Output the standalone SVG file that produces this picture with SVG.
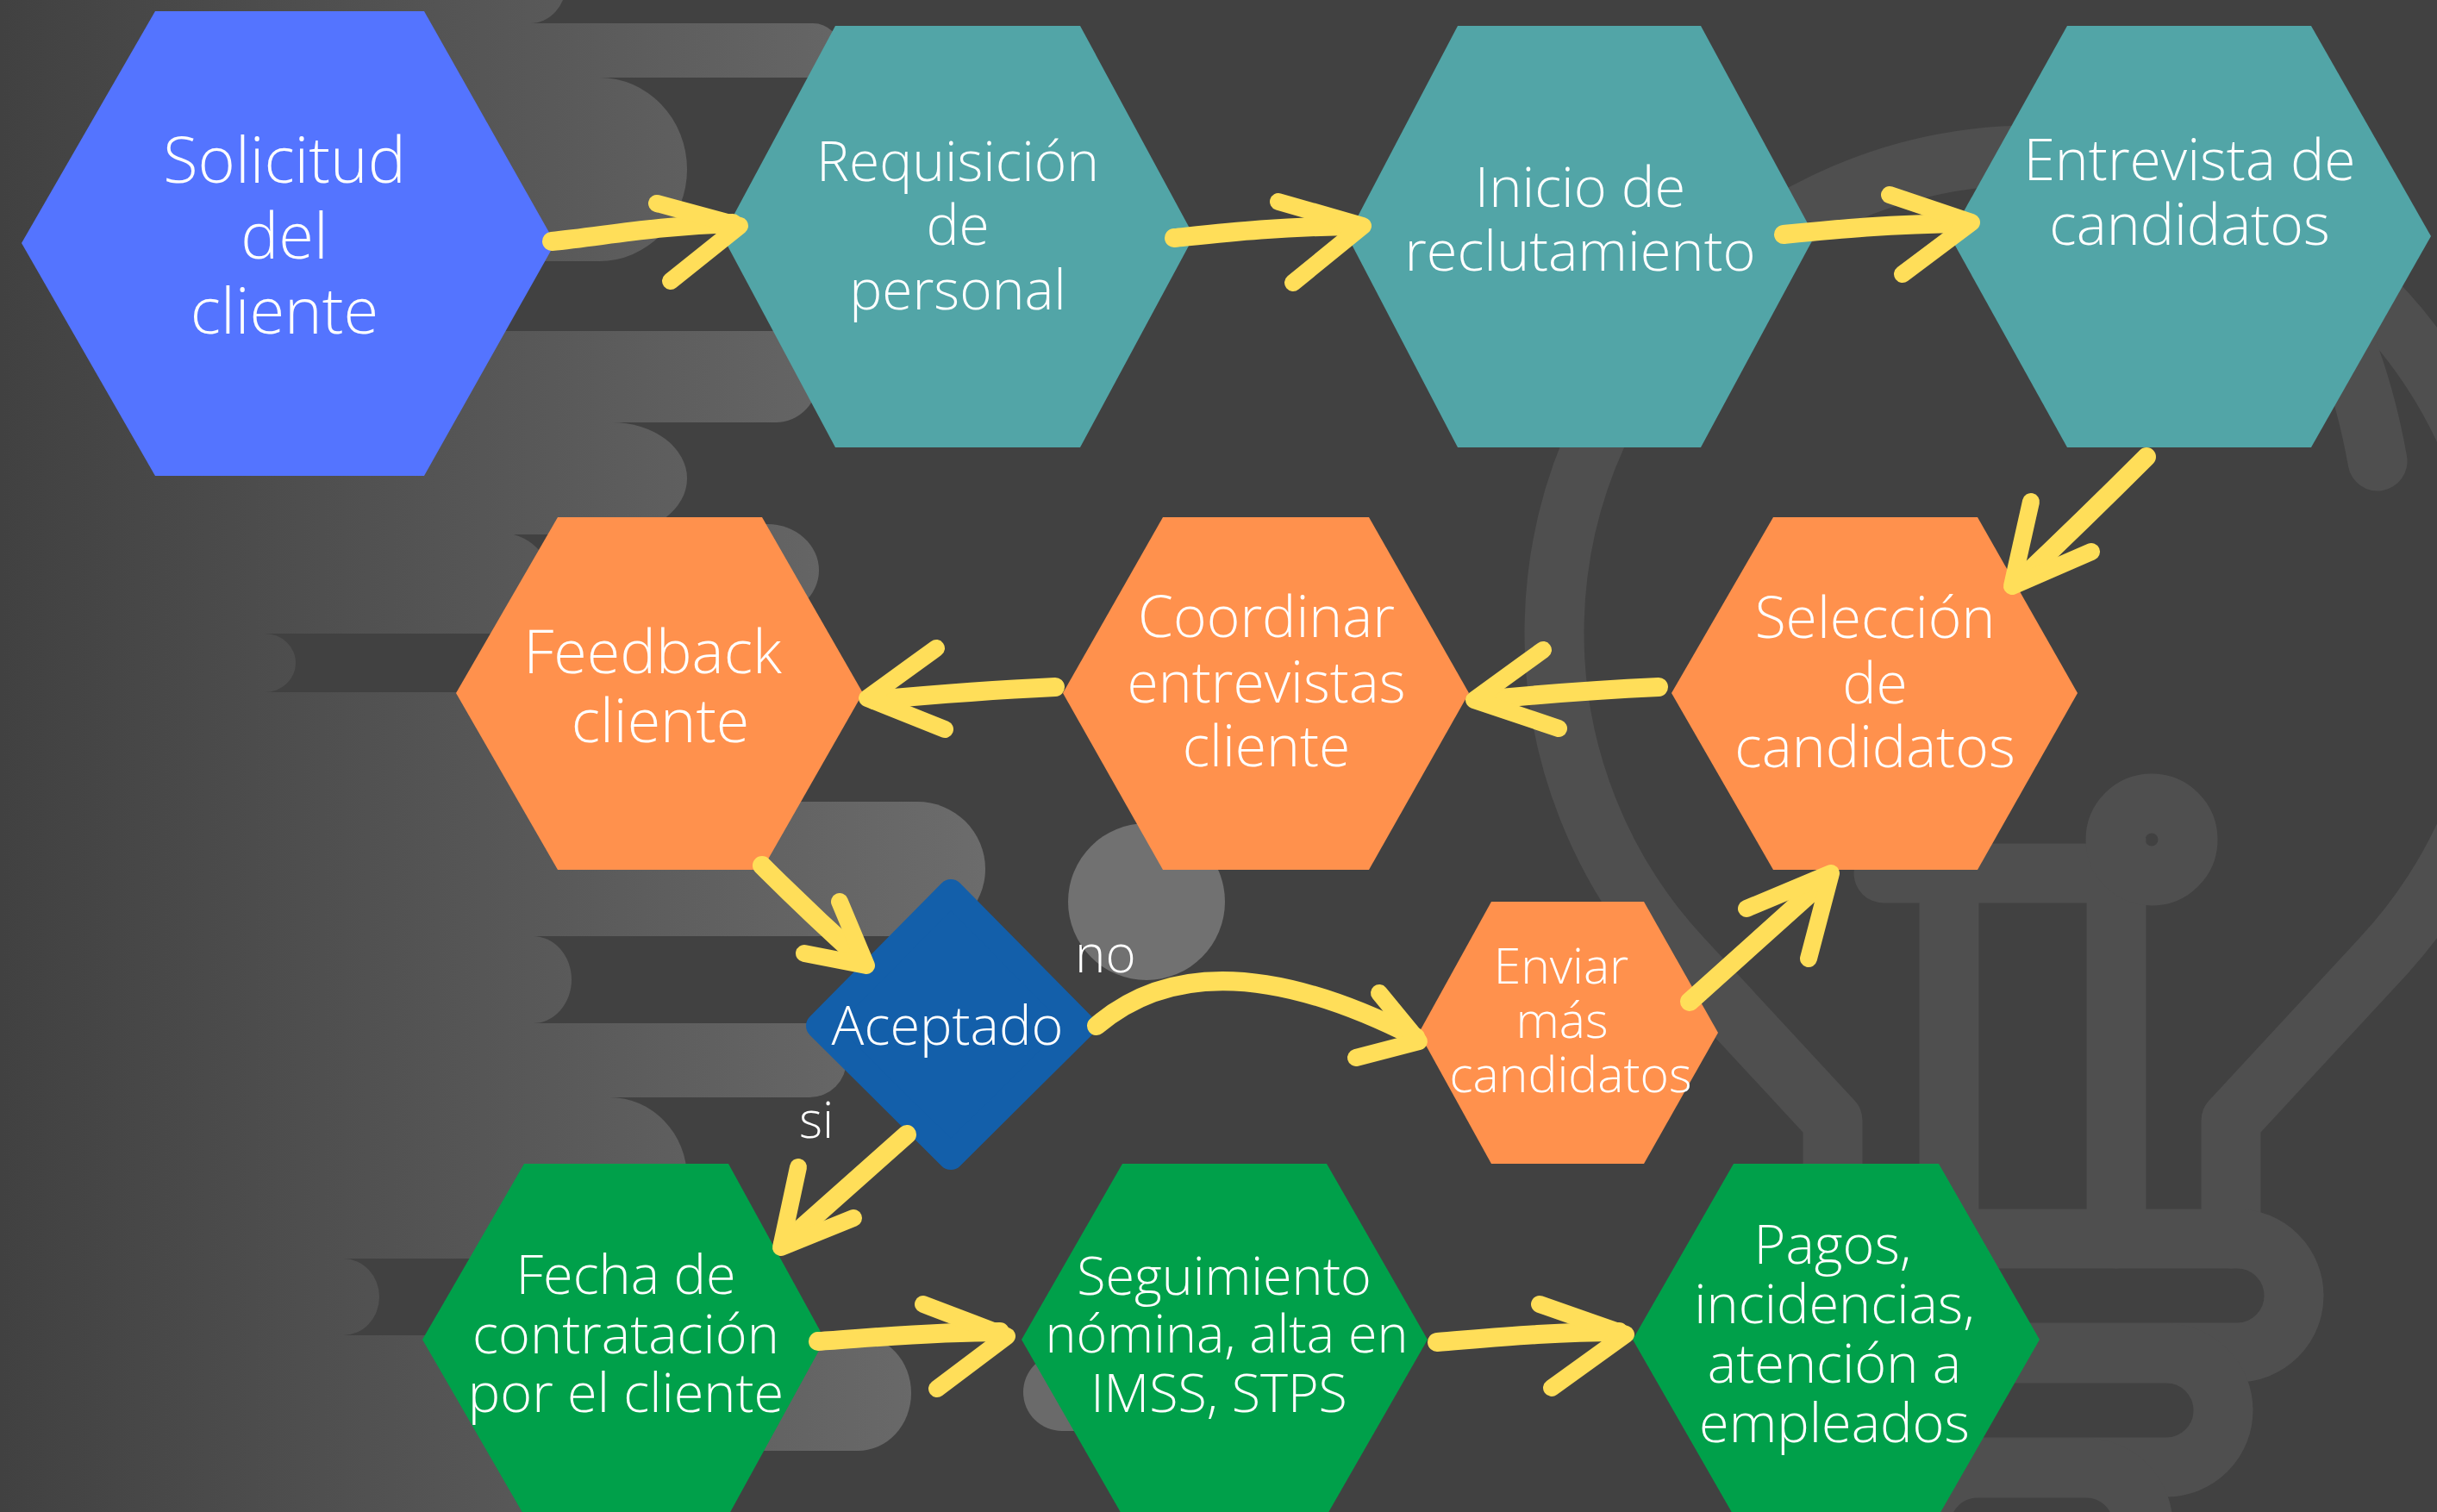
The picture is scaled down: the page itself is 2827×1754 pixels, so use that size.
<svg xmlns="http://www.w3.org/2000/svg" width="2827" height="1754" viewBox="0 0 2827 1754">
<defs>
<linearGradient id="g" gradientUnits="userSpaceOnUse" x1="0" y1="0" x2="1200" y2="0">
<stop offset="0" stop-color="#414141"/>
<stop offset="1" stop-color="#6e6e6e"/>
</linearGradient>
<style>
.pill{fill:url(#g)}
.bulb{fill:none;stroke:#4f4f4f;stroke-width:69;stroke-linecap:round;stroke-linejoin:round}
.teal{fill:#52A5A7}
.orange{fill:#FF914D}
.green{fill:#00A04A}
.t{font-family:"Open Sans","Liberation Sans",sans-serif;font-weight:300;fill:#ffffff;text-anchor:middle}
.lbl{font-family:"Open Sans","Liberation Sans",sans-serif;font-weight:300;fill:#ffffff}
.shaft{fill:none;stroke:#FFDE59;stroke-width:22;stroke-linecap:round;stroke-linejoin:round}
.head{fill:none;stroke:#FFDE59;stroke-width:20;stroke-linecap:round;stroke-linejoin:round}
</style>
</defs>
<rect width="2827" height="1754" fill="#414141"/>
<g id="background">
<path class="pill" d="M-10,-67 H615 A42,47 0 0 1 615,27 H-10Z"/>
<path class="pill" d="M-10,27 H943 A32,31.5 0 0 1 943,90 H-10Z"/>
<path class="pill" d="M-10,90 H695 A102,106.5 0 0 1 695,303 H-10Z"/>
<path class="pill" d="M-10,303 H560 A40,40.5 0 0 1 560,384 H-10Z"/>
<path class="pill" d="M-10,384 H900 A50,53 0 0 1 900,490 H-10Z"/>
<path class="pill" d="M-10,490 H710 A87,65 0 0 1 710,620 H-10Z"/>
<path class="pill" d="M-10,618 H580 A60,58.5 0 0 1 580,735 H-10Z"/>
<path class="pill" d="M700,608 H890 A60,53.5 0 0 1 890,715 H700Z"/>
<path class="pill" d="M-10,735 H307 A36,34 0 0 1 307,803 H-10Z"/>
<path class="pill" d="M-10,803 H800 A60,63.5 0 0 1 800,930 H-10Z"/>
<path class="pill" d="M-10,930 H1064 A79,78 0 0 1 1064,1086 H-10Z"/>
<path class="pill" d="M-10,1086 H618 A45,50.5 0 0 1 618,1187 H-10Z"/>
<path class="pill" d="M-10,1187 H939 A43,43 0 0 1 939,1273 H-10Z"/>
<path class="pill" d="M-10,1273 H707 A90,93.5 0 0 1 707,1460 H-10Z"/>
<path class="pill" d="M-10,1460 H398 A42,44.5 0 0 1 398,1549 H-10Z"/>
<path class="pill" d="M-10,1549 H995 A62,67 0 0 1 995,1683 H-10Z"/>
<path class="pill" d="M-10,1683 H710 A40,43.5 0 0 1 710,1770 H-10Z"/>
<circle cx="1330" cy="1046" r="91" fill="#717171"/>
<rect x="1187" y="1570" width="140" height="90" rx="45" fill="#6a6a6a"/>
<path class="bulb" d="M2126,1437 L2126,1300 L1951,1111 A554,554 0 1 1 2763,1111 L2588,1300 L2588,1437"/>
<path class="bulb" d="M2590,215 Q2720,320 2758,535"/>
<path class="bulb" d="M2185,1013 L2455,1013 M2261,1013 V1437 M2455,974 V1437"/>
<circle class="bulb" cx="2496" cy="974" r="42"/>
<path class="bulb" d="M2119,1437 H2595 A66,66 0 0 1 2595,1569 H2119 A66,66 0 0 1 2119,1437 Z"/>
<path class="bulb" d="M2201,1570 H2513 A66,66 0 0 1 2513,1702 H2201 A66,66 0 0 1 2201,1570 Z"/>
<path class="bulb" d="M2294,1703 H2420 A66,66 0 0 1 2420,1835 H2294 A66,66 0 0 1 2294,1703 Z"/>
</g>
<g id="node-solicitud">
<polygon points="25,282 180,13 492,13 644,282 492,552 180,552" fill="#5474FF"/>
<text class="t" font-size="74"><tspan x="330" y="212">Solicitud</tspan><tspan x="330" y="300">del</tspan><tspan x="330" y="387">cliente</tspan></text>
</g>
<g id="node-requisicion">
<polygon class="teal" points="838,274 969,30 1253,30 1385,274 1253,519 969,519"/>
<text class="t" font-size="64"><tspan x="1111" y="210">Requisición</tspan><tspan x="1111" y="284">de</tspan><tspan x="1111" y="359">personal</tspan></text>
</g>
<g id="node-inicio">
<polygon class="teal" points="1563,274 1691,30 1973,30 2105,274 1973,519 1691,519"/>
<text class="t" font-size="65"><tspan x="1833" y="240">Inicio de</tspan><tspan x="1833" y="314">reclutamiento</tspan></text>
</g>
<g id="node-entrevista">
<polygon class="teal" points="2262,274 2398,30 2681,30 2820,274 2681,519 2398,519"/>
<text class="t" font-size="66"><tspan x="2540" y="209">Entrevista de</tspan><tspan x="2540" y="284">candidatos</tspan></text>
</g>
<g id="node-seleccion">
<polygon class="orange" points="1939,804 2057,600 2294,600 2410,804 2294,1009 2057,1009"/>
<text class="t" font-size="66"><tspan x="2175" y="740">Selección</tspan><tspan x="2175" y="816">de</tspan><tspan x="2175" y="890">candidatos</tspan></text>
</g>
<g id="node-coordinar">
<polygon class="orange" points="1233,804 1349,600 1588,600 1704,804 1588,1009 1349,1009"/>
<text class="t" font-size="66"><tspan x="1469" y="739">Coordinar</tspan><tspan x="1469" y="815">entrevistas</tspan><tspan x="1469" y="889">cliente</tspan></text>
</g>
<g id="node-feedback">
<polygon class="orange" points="529,804 647,600 884,600 1001,804 884,1009 647,1009"/>
<text class="t" font-size="70"><tspan x="757" y="781">Feedback</tspan><tspan x="766" y="861">cliente</tspan></text>
</g>
<g id="node-aceptado">
<polygon points="1103,1035 1256,1190 1103,1342 950,1190" fill="#135FAA" stroke="#135FAA" stroke-width="30" stroke-linejoin="round"/>
<text class="t" font-size="63" x="1099" y="1212">Aceptado</text>
</g>
<g id="node-enviar">
<polygon class="orange" points="1646,1198 1730,1046 1907,1046 1993,1198 1907,1350 1730,1350"/>
<text class="t" font-size="57"><tspan x="1811" y="1141">Enviar</tspan><tspan x="1812" y="1204">más</tspan><tspan x="1822" y="1267">candidatos</tspan></text>
</g>
<g id="node-fecha">
<polygon class="green" points="490,1554 608,1350 845,1350 957,1554 845,1758 608,1758"/>
<text class="t" font-size="63"><tspan x="726" y="1501">Fecha de</tspan><tspan x="726" y="1570">contratación</tspan><tspan x="726" y="1638">por el cliente</tspan></text>
</g>
<g id="node-seguimiento">
<polygon class="green" points="1185,1554 1302,1350 1539,1350 1656,1554 1539,1758 1302,1758"/>
<text class="t" font-size="61"><tspan x="1420" y="1502">Seguimiento</tspan><tspan x="1423" y="1569">nómina, alta en</tspan><tspan x="1414" y="1638">IMSS, STPS</tspan></text>
</g>
<g id="node-pagos">
<polygon class="green" points="1894,1554 2011,1350 2249,1350 2366,1554 2249,1758 2011,1758"/>
<text class="t" font-size="63"><tspan x="2126" y="1466">Pagos,</tspan><tspan x="2128" y="1535">incidencias,</tspan><tspan x="2128" y="1604">atención a</tspan><tspan x="2128" y="1673">empleados</tspan></text>
</g>
<g id="connectors">
<path class="shaft" d="M640,280 C700,274 760,262 850,259"/>
<path class="head" d="M762,236 L858,262 L778,326"/>
<path class="shaft" d="M1362,276 C1420,270 1480,263 1572,262"/>
<path class="head" d="M1483,234 L1581,262 L1500,328"/>
<path class="shaft" d="M2069,272 C2130,266 2190,260 2280,259"/>
<path class="head" d="M2192,226 L2287,258 L2207,318"/>
<path class="shaft" d="M2490,530 Q2420,600 2340,676"/>
<path class="head" d="M2356,582 L2334,680 L2426,640"/>
<path class="shaft" d="M1924,797 C1860,800 1780,806 1718,812"/>
<path class="head" d="M1790,754 L1710,812 L1808,845"/>
<path class="shaft" d="M1224,797 C1160,800 1080,806 1014,812"/>
<path class="head" d="M1086,752 L1006,810 L1096,846"/>
<path class="shaft" d="M884,1004 Q940,1060 1000,1114"/>
<path class="head" d="M974,1046 L1005,1120 L933,1106"/>
<path class="shaft" d="M1052,1316 Q980,1380 908,1444"/>
<path class="head" d="M926,1354 L906,1447 L990,1413"/>
<path class="shaft" d="M1272,1190 Q1400,1080 1642,1203"/>
<path class="head" d="M1600,1152 L1646,1208 L1573,1227"/>
<path class="shaft" d="M1960,1162 Q2040,1090 2118,1020"/>
<path class="head" d="M2026,1054 L2124,1013 L2098,1112"/>
<path class="shaft" d="M949,1556 C1010,1552 1080,1545 1160,1545"/>
<path class="head" d="M1071,1513 L1168,1550 L1087,1611"/>
<path class="shaft" d="M1667,1557 C1730,1552 1800,1545 1878,1545"/>
<path class="head" d="M1786,1513 L1886,1548 L1800,1610"/>
<text class="lbl" font-size="60" x="1247" y="1128">no</text>
<text class="lbl" font-size="58" x="927" y="1320">si</text>
</g>
</svg>
